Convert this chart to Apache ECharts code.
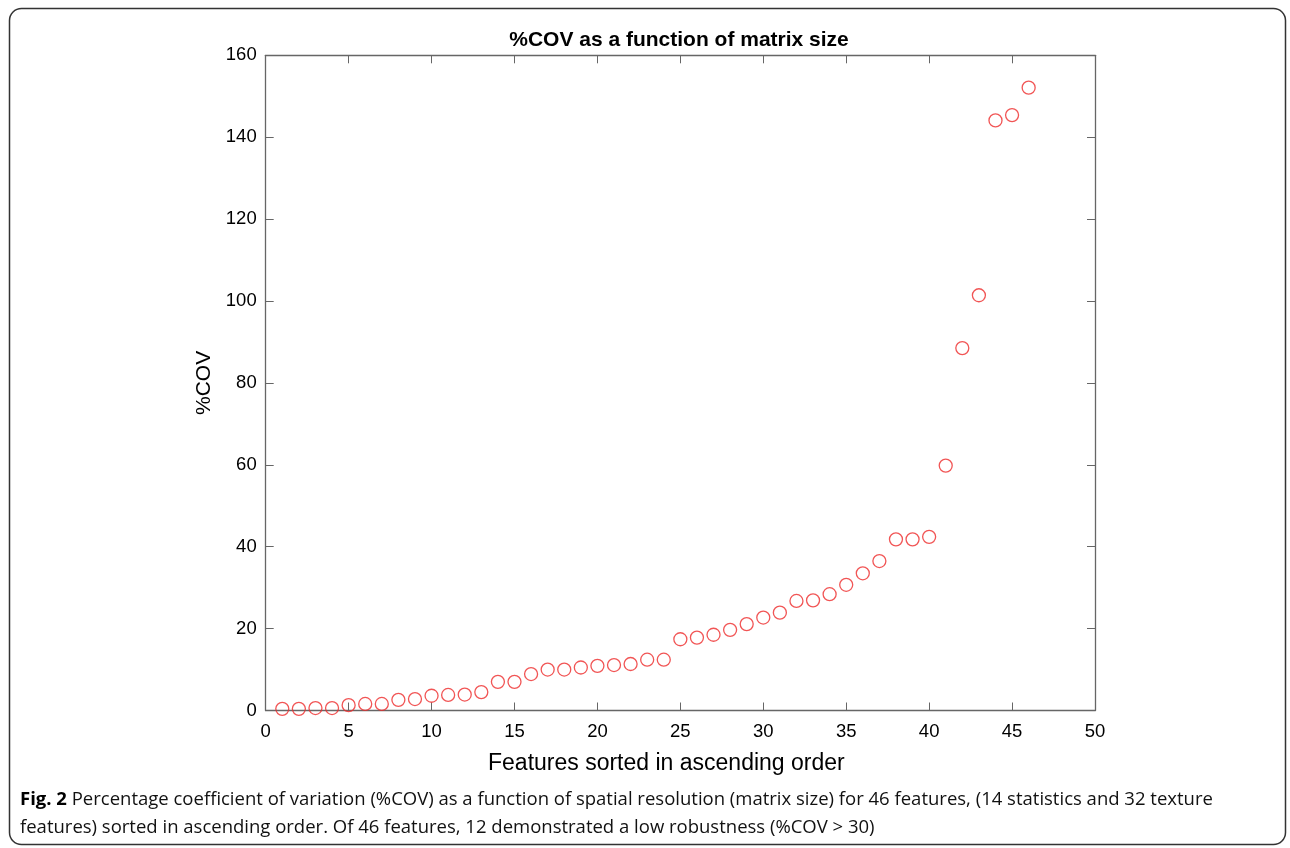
<!DOCTYPE html>
<html>
<head>
<meta charset="utf-8">
<script src="https://cdn.jsdelivr.net/npm/echarts@6/dist/echarts.min.js"></script>
<style>
html,body{margin:0;padding:0;background:#fff;}
#c{width:1290px;height:848px;}
</style>
</head>
<body>
<div id="c"></div>
<script>
const features = [1,2,3,4,5,6,7,8,9,10,11,12,13,14,15,16,17,18,19,20,21,22,23,24,25,26,27,28,29,30,31,32,33,34,35,36,37,38,39,40,41,42,43,44,45,46];
const covValues = [0.4,0.4,0.6,0.6,1.3,1.6,1.6,2.6,2.8,3.6,3.8,3.9,4.5,7.0,7.0,8.9,10.0,10.0,10.5,10.9,11.1,11.35,12.4,12.4,17.4,17.8,18.5,19.7,21.1,22.7,23.9,26.75,26.9,28.4,30.7,33.5,36.5,41.8,41.8,42.4,59.8,88.5,101.4,144.1,145.4,152.1];
const titleText = '%COV as a function of matrix size';
const xName = 'Features sorted in ascending order';
const yName = '%COV';
const captionBold = 'Fig. 2';
const captionLine1 = ' Percentage coefficient of variation (%COV) as a function of spatial resolution (matrix size) for 46 features, (14 statistics and 32 texture';
const captionLine2 = 'features) sorted in ascending order. Of 46 features, 12 demonstrated a low robustness (%COV > 30)';

const points = features.map((f, i) => [f, covValues[i]]);
const axisCol = '#666';
const font = 'Liberation Sans, Arial, Helvetica, sans-serif';
const capFont = 'Open Sans, sans-serif';

const chart = echarts.init(document.getElementById('c'), null, {renderer: 'canvas'});
const tickCommon = {show: true, inside: true, length: 8, lineStyle: {color: axisCol, width: 1}};
const lineCommon = {show: true, onZero: false, lineStyle: {color: axisCol, width: 1.3}};
chart.setOption({
  backgroundColor: '#fff',
  animation: false,
  title: {
    text: titleText,
    left: 674, top: 25, textAlign: 'center',
    textStyle: {fontFamily: font, fontWeight: 'bold', fontSize: 21, color: '#000'}
  },
  grid: {left: 265.7, top: 55.3, right: 195, bottom: 137.5, show: false},
  xAxis: [{
    type: 'value', min: 0, max: 50, interval: 5, position: 'bottom',
    name: xName, nameLocation: 'middle', nameGap: 42,
    nameTextStyle: {fontFamily: font, fontSize: 23, color: '#000', padding: [0, 28, 0, 0]},
    axisLine: lineCommon,
    axisTick: tickCommon,
    axisLabel: {fontFamily: font, fontSize: 18.5, color: '#000', margin: 12},
    splitLine: {show: false}
  }, {
    type: 'value', min: 0, max: 50, interval: 5, position: 'top',
    axisLine: lineCommon,
    axisTick: tickCommon, axisLabel: {show: false}, splitLine: {show: false}
  }],
  yAxis: [{
    type: 'value', min: 0, max: 160, interval: 20, position: 'left',
    name: yName, nameLocation: 'middle', nameGap: 47, nameRotate: 90,
    nameTextStyle: {fontFamily: font, fontSize: 21, color: '#000'},
    axisLine: lineCommon,
    axisTick: tickCommon,
    axisLabel: {fontFamily: font, fontSize: 18.5, color: '#000', margin: 9},
    splitLine: {show: false}
  }, {
    type: 'value', min: 0, max: 160, interval: 20, position: 'right',
    axisLine: lineCommon,
    axisTick: tickCommon, axisLabel: {show: false}, splitLine: {show: false}
  }],
  series: [{
    type: 'scatter',
    xAxisIndex: 0, yAxisIndex: 0,
    data: points,
    symbol: 'circle',
    symbolSize: 13,
    itemStyle: {color: 'rgba(255,255,255,0)', borderColor: '#ee2b2b', borderWidth: 1.3}
  }],
  graphic: [
    {type: 'rect', shape: {x: 9.5, y: 8.5, width: 1276, height: 836, r: 12},
     style: {fill: 'none', stroke: '#333', lineWidth: 1.5}, silent: true, z: -1},
    {type: 'text', left: 20, top: 790,
     style: {
       text: '{b|' + captionBold + '}' + captionLine1,
       rich: {b: {fontWeight: 'bold', fontFamily: capFont, fontSize: 18.5, fill: '#000'}},
       fontFamily: capFont, fontSize: 18.5, fill: '#111'
     }},
    {type: 'text', left: 20, top: 818,
     style: {
       text: captionLine2,
       fontFamily: capFont, fontSize: 18.5, fill: '#111'
     }}
  ]
});
</script>
</body>
</html>
